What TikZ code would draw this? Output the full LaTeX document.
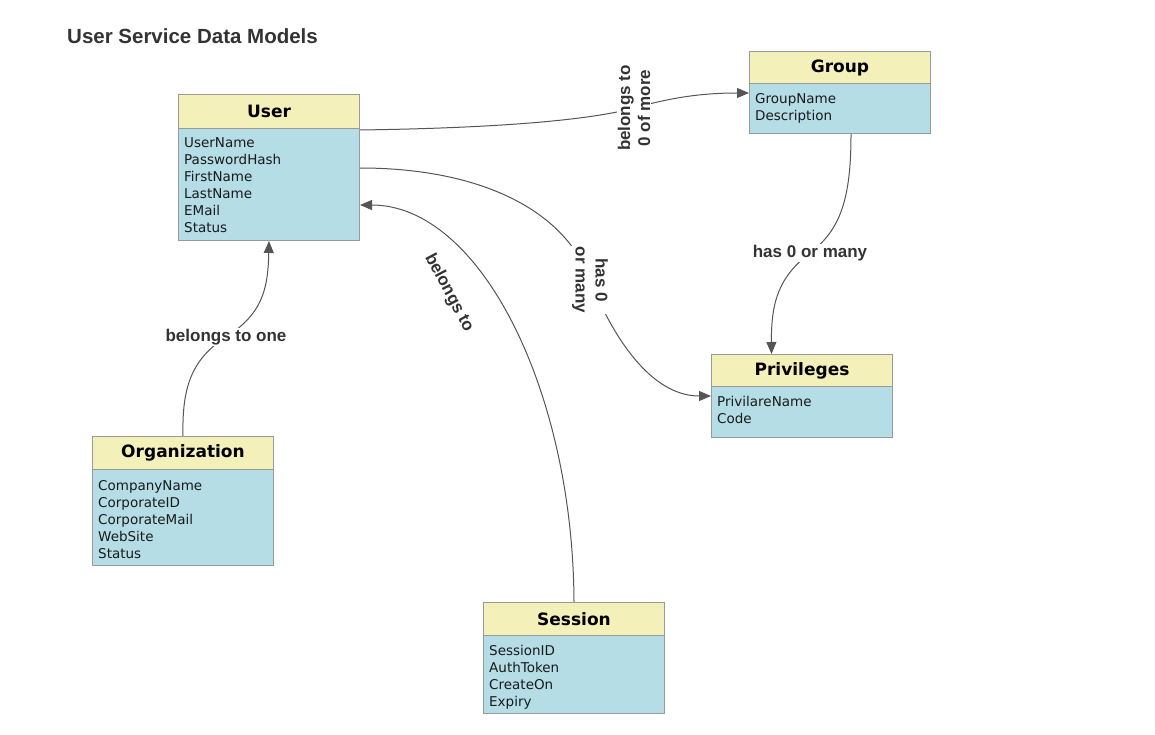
\documentclass[tikz,border=0pt]{standalone}
\usepackage{fontspec}
\setmainfont{DejaVu Sans}
\newfontfamily\labelfont{Liberation Sans}
\usetikzlibrary{arrows.meta}

\definecolor{headfill}{HTML}{F3F0BA}
\definecolor{bodyfill}{HTML}{B4DDE6}
\definecolor{boxline}{HTML}{9A9A9A}
\definecolor{wire}{HTML}{555555}
\definecolor{ink}{HTML}{333333}
\definecolor{fieldink}{HTML}{1A1A1A}

\begin{document}
\begin{tikzpicture}[x=1pt,y=-1pt,
  head/.style={draw=boxline, fill=headfill, line width=1pt, anchor=north west,
    minimum width=181pt, inner sep=0pt, text=black,
    font=\bfseries\fontsize{17}{20}\selectfont},
  body/.style={draw=boxline, fill=bodyfill, line width=1pt, anchor=north west,
    minimum width=181pt, inner sep=0pt},
  fields/.style={anchor=north west, inner sep=0pt, align=left, text=fieldink,
    font=\fontsize{13.5}{17}\selectfont},
  conn/.style={draw=wire, line width=1pt},
  arrowed/.style={conn, -{Triangle[length=12pt,width=10pt]}},
  lbl/.style={fill=white, inner sep=1pt, text=ink, align=center,
    font=\labelfont\bfseries\fontsize{17}{20}\selectfont},
]
\useasboundingbox (0,0) rectangle (1155,735);

% title
\node[anchor=base west, inner sep=0pt, text=ink,
  font=\labelfont\bfseries\fontsize{20.5}{24}\selectfont] (title) at (67,44) {User Service Data Models};

% User
\node[body, minimum height=112pt] (userbody) at (178,128) {};
\node[head, minimum height=34pt] (userhead) at (178,94) {User};
\node[fields] (userfields) at (184,137) {UserName\\PasswordHash\\FirstName\\LastName\\EMail\\Status};

% Group
\node[body, minimum height=50pt] (groupbody) at (749,83) {};
\node[head, minimum height=32pt] (grouphead) at (749,51) {Group};
\node[fields] (groupfields) at (755,93) {GroupName\\Description};

% Privileges
\node[body, minimum height=51pt] (privbody) at (711,386) {};
\node[head, minimum height=32pt] (privhead) at (711,354) {Privileges};
\node[fields] (privfields) at (717,396) {PrivilareName\\Code};

% Organization
\node[body, minimum height=96pt] (orgbody) at (92,469) {};
\node[head, minimum height=33pt] (orghead) at (92,436) {Organization};
\node[fields] (orgfields) at (98,480) {CompanyName\\CorporateID\\CorporateMail\\WebSite\\Status};

% Session
\node[body, minimum height=78pt] (sessbody) at (483,635) {};
\node[head, minimum height=33pt] (sesshead) at (483,602) {Session};
\node[fields] (sessfields) at (489,645) {SessionID\\AuthToken\\CreateOn\\Expiry};

% relations
\draw[arrowed] ([yshift=-2pt]userbody.north east)
  .. controls (500,128) and (590,120) .. (634,108)
  node[lbl, rotate=90] (lblgroup) {belongs to\\0 of more}
  .. controls (670,98) and (700,93) .. ([yshift=-10pt]groupbody.north west);

\draw[arrowed] ([yshift=-40pt]userbody.north east)
  .. controls (480,168) and (565,210) .. (590,280)
  node[lbl, rotate=-90] (lblpriv) {has 0\\or many}
  .. controls (612,335) and (650,396) .. ([yshift=-10pt]privbody.north west);

\draw[arrowed] (groupbody.south -| 851,0)
  .. controls (851,200) and (840,230) .. (810,253)
  node[lbl] (lblgp) {has 0 or many}
  .. controls (780,276) and (771,300) .. ([xshift=-30.5pt]privhead.north);

\draw[arrowed] (orghead.north)
  .. controls (182,390) and (190,360) .. (226,337)
  node[lbl] (lblorg) {belongs to one}
  .. controls (262,314) and (268,290) .. (userbody.south);

\draw[arrowed] (sesshead.north)
  .. controls (573,390) and (480,205) .. ([yshift=-77pt]userbody.north east);
\node[lbl, fill=none, rotate=-62] (lblsess) at (449,293) {belongs to};
\end{tikzpicture}
\end{document}
